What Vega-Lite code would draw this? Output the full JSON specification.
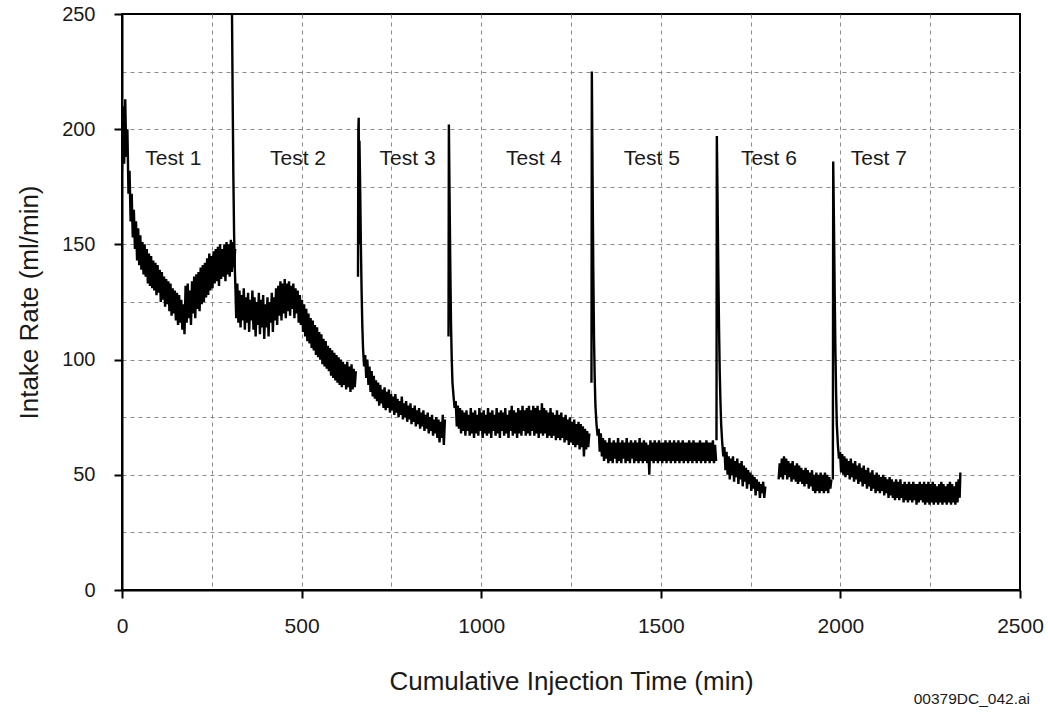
{
  "$schema": "https://vega.github.io/schema/vega-lite/v6.json",
  "width": 898,
  "height": 576,
  "autosize": {"type": "none"},
  "padding": {"left": 122, "top": 14, "right": 28, "bottom": 124},
  "background": "white",
  "config": {
    "view": {"stroke": "black", "strokeWidth": 2},
    "font": "Liberation Sans"
  },
  "title": {
    "text": "00379DC_042.ai",
    "orient": "bottom",
    "anchor": "end",
    "frame": "group",
    "offset": -2,
    "dx": 10,
    "fontSize": 15.5,
    "fontWeight": "normal",
    "color": "#1a1a1a",
    "font": "Liberation Sans"
  },
  "layer": [
    {
      "data": {"values": [
        {"s":1,"t":0,"r":182},{"s":1,"t":3,"r":210},{"s":1,"t":6,"r":185},{"s":1,"t":9,"r":213},{"s":1,"t":12,"r":188},{"s":1,"t":15,"r":200},{"s":1,"t":18,"r":172},{"s":1,"t":21,"r":182},{"s":1,"t":24,"r":160},{"s":1,"t":27,"r":172},{"s":1,"t":30,"r":153},{"s":1,"t":33,"r":165},{"s":1,"t":36,"r":148},{"s":1,"t":39,"r":160},{"s":1,"t":42,"r":143},{"s":1,"t":45,"r":157},{"s":1,"t":48,"r":141},{"s":1,"t":51,"r":154},{"s":1,"t":54,"r":139},{"s":1,"t":57,"r":151},{"s":1,"t":60,"r":137},{"s":1,"t":63,"r":150},{"s":1,"t":66,"r":136},{"s":1,"t":69,"r":148},{"s":1,"t":72,"r":133},{"s":1,"t":75,"r":146},{"s":1,"t":78,"r":132},{"s":1,"t":81,"r":145},{"s":1,"t":84,"r":131},{"s":1,"t":87,"r":143},{"s":1,"t":90,"r":130},{"s":1,"t":93,"r":142},{"s":1,"t":96,"r":128},{"s":1,"t":99,"r":141},{"s":1,"t":102,"r":129},{"s":1,"t":105,"r":139},{"s":1,"t":108,"r":125},{"s":1,"t":111,"r":138},{"s":1,"t":114,"r":126},{"s":1,"t":117,"r":136},{"s":1,"t":120,"r":123},{"s":1,"t":123,"r":135},{"s":1,"t":126,"r":124},{"s":1,"t":129,"r":134},{"s":1,"t":132,"r":121},{"s":1,"t":135,"r":133},{"s":1,"t":138,"r":119},{"s":1,"t":141,"r":131},{"s":1,"t":144,"r":120},{"s":1,"t":147,"r":130},{"s":1,"t":150,"r":117},{"s":1,"t":153,"r":129},{"s":1,"t":156,"r":115},{"s":1,"t":159,"r":128},{"s":1,"t":162,"r":116},{"s":1,"t":165,"r":126},{"s":1,"t":168,"r":113},{"s":1,"t":171,"r":124},{"s":1,"t":174,"r":111},{"s":1,"t":177,"r":132},{"s":1,"t":180,"r":116},{"s":1,"t":183,"r":133},{"s":1,"t":186,"r":118},{"s":1,"t":189,"r":130},{"s":1,"t":192,"r":115},{"s":1,"t":195,"r":134},{"s":1,"t":198,"r":120},{"s":1,"t":201,"r":136},{"s":1,"t":204,"r":118},{"s":1,"t":207,"r":137},{"s":1,"t":210,"r":122},{"s":1,"t":213,"r":138},{"s":1,"t":216,"r":121},{"s":1,"t":219,"r":140},{"s":1,"t":222,"r":124},{"s":1,"t":225,"r":141},{"s":1,"t":228,"r":125},{"s":1,"t":231,"r":142},{"s":1,"t":234,"r":127},{"s":1,"t":237,"r":144},{"s":1,"t":240,"r":128},{"s":1,"t":243,"r":146},{"s":1,"t":246,"r":130},{"s":1,"t":249,"r":145},{"s":1,"t":252,"r":131},{"s":1,"t":255,"r":147},{"s":1,"t":258,"r":133},{"s":1,"t":261,"r":148},{"s":1,"t":264,"r":134},{"s":1,"t":267,"r":149},{"s":1,"t":270,"r":132},{"s":1,"t":273,"r":150},{"s":1,"t":276,"r":135},{"s":1,"t":279,"r":148},{"s":1,"t":282,"r":136},{"s":1,"t":285,"r":150},{"s":1,"t":288,"r":134},{"s":1,"t":291,"r":151},{"s":1,"t":294,"r":137},{"s":1,"t":297,"r":150},{"s":1,"t":300,"r":136},{"s":1,"t":303,"r":152},{"s":1,"t":306,"r":138},{"s":1,"t":309,"r":151},{"s":1,"t":312,"r":140},{"s":1,"t":315,"r":148},
        {"s":2,"t":306,"r":255},{"s":2,"t":308,"r":215},{"s":2,"t":310,"r":180},{"s":2,"t":312,"r":155},{"s":2,"t":314,"r":140},{"s":2,"t":316,"r":130},{"s":2,"t":318,"r":118},{"s":2,"t":321,"r":133},{"s":2,"t":324,"r":116},{"s":2,"t":327,"r":130},{"s":2,"t":330,"r":114},{"s":2,"t":333,"r":128},{"s":2,"t":336,"r":117},{"s":2,"t":339,"r":131},{"s":2,"t":342,"r":113},{"s":2,"t":345,"r":127},{"s":2,"t":348,"r":116},{"s":2,"t":351,"r":129},{"s":2,"t":354,"r":112},{"s":2,"t":357,"r":126},{"s":2,"t":360,"r":117},{"s":2,"t":363,"r":130},{"s":2,"t":366,"r":113},{"s":2,"t":369,"r":127},{"s":2,"t":372,"r":110},{"s":2,"t":375,"r":125},{"s":2,"t":378,"r":115},{"s":2,"t":381,"r":129},{"s":2,"t":384,"r":111},{"s":2,"t":387,"r":126},{"s":2,"t":390,"r":114},{"s":2,"t":393,"r":128},{"s":2,"t":396,"r":109},{"s":2,"t":399,"r":124},{"s":2,"t":402,"r":114},{"s":2,"t":405,"r":127},{"s":2,"t":408,"r":110},{"s":2,"t":411,"r":125},{"s":2,"t":414,"r":116},{"s":2,"t":417,"r":129},{"s":2,"t":420,"r":112},{"s":2,"t":423,"r":127},{"s":2,"t":426,"r":117},{"s":2,"t":429,"r":131},{"s":2,"t":432,"r":115},{"s":2,"t":435,"r":132},{"s":2,"t":438,"r":119},{"s":2,"t":441,"r":134},{"s":2,"t":444,"r":117},{"s":2,"t":447,"r":133},{"s":2,"t":450,"r":120},{"s":2,"t":453,"r":135},{"s":2,"t":456,"r":118},{"s":2,"t":459,"r":133},{"s":2,"t":462,"r":121},{"s":2,"t":465,"r":134},{"s":2,"t":468,"r":119},{"s":2,"t":471,"r":132},{"s":2,"t":474,"r":122},{"s":2,"t":477,"r":133},{"s":2,"t":480,"r":118},{"s":2,"t":483,"r":131},{"s":2,"t":486,"r":120},{"s":2,"t":489,"r":130},{"s":2,"t":492,"r":116},{"s":2,"t":495,"r":128},{"s":2,"t":498,"r":115},{"s":2,"t":501,"r":126},{"s":2,"t":504,"r":112},{"s":2,"t":507,"r":124},{"s":2,"t":510,"r":110},{"s":2,"t":513,"r":122},{"s":2,"t":516,"r":108},{"s":2,"t":519,"r":120},{"s":2,"t":522,"r":107},{"s":2,"t":525,"r":118},{"s":2,"t":528,"r":105},{"s":2,"t":531,"r":117},{"s":2,"t":534,"r":104},{"s":2,"t":537,"r":115},{"s":2,"t":540,"r":102},{"s":2,"t":543,"r":114},{"s":2,"t":546,"r":101},{"s":2,"t":549,"r":112},{"s":2,"t":552,"r":100},{"s":2,"t":555,"r":111},{"s":2,"t":558,"r":98},{"s":2,"t":561,"r":109},{"s":2,"t":564,"r":97},{"s":2,"t":567,"r":108},{"s":2,"t":570,"r":96},{"s":2,"t":573,"r":106},{"s":2,"t":576,"r":95},{"s":2,"t":579,"r":105},{"s":2,"t":582,"r":93},{"s":2,"t":585,"r":104},{"s":2,"t":588,"r":92},{"s":2,"t":591,"r":103},{"s":2,"t":594,"r":91},{"s":2,"t":597,"r":102},{"s":2,"t":600,"r":90},{"s":2,"t":603,"r":101},{"s":2,"t":606,"r":89},{"s":2,"t":609,"r":100},{"s":2,"t":612,"r":88},{"s":2,"t":615,"r":99},{"s":2,"t":618,"r":89},{"s":2,"t":621,"r":98},{"s":2,"t":624,"r":87},{"s":2,"t":627,"r":99},{"s":2,"t":630,"r":88},{"s":2,"t":633,"r":97},{"s":2,"t":636,"r":86},{"s":2,"t":639,"r":98},{"s":2,"t":642,"r":87},{"s":2,"t":645,"r":96},{"s":2,"t":648,"r":88},{"s":2,"t":651,"r":95},
        {"s":3,"t":657,"r":136},{"s":3,"t":658,"r":200},{"s":3,"t":659,"r":205},{"s":3,"t":660,"r":150},{"s":3,"t":661,"r":195},{"s":3,"t":663,"r":175},{"s":3,"t":665,"r":150},{"s":3,"t":667,"r":130},{"s":3,"t":669,"r":115},{"s":3,"t":671,"r":105},{"s":3,"t":674,"r":97},{"s":3,"t":677,"r":102},{"s":3,"t":680,"r":92},{"s":3,"t":683,"r":100},{"s":3,"t":686,"r":89},{"s":3,"t":689,"r":97},{"s":3,"t":692,"r":86},{"s":3,"t":695,"r":95},{"s":3,"t":698,"r":84},{"s":3,"t":701,"r":93},{"s":3,"t":704,"r":83},{"s":3,"t":707,"r":91},{"s":3,"t":710,"r":82},{"s":3,"t":713,"r":90},{"s":3,"t":716,"r":80},{"s":3,"t":719,"r":89},{"s":3,"t":722,"r":81},{"s":3,"t":725,"r":87},{"s":3,"t":728,"r":79},{"s":3,"t":731,"r":88},{"s":3,"t":734,"r":78},{"s":3,"t":737,"r":86},{"s":3,"t":740,"r":79},{"s":3,"t":743,"r":87},{"s":3,"t":746,"r":77},{"s":3,"t":749,"r":85},{"s":3,"t":752,"r":78},{"s":3,"t":755,"r":84},{"s":3,"t":758,"r":76},{"s":3,"t":761,"r":85},{"s":3,"t":764,"r":77},{"s":3,"t":767,"r":83},{"s":3,"t":770,"r":75},{"s":3,"t":773,"r":82},{"s":3,"t":776,"r":76},{"s":3,"t":779,"r":84},{"s":3,"t":782,"r":74},{"s":3,"t":785,"r":81},{"s":3,"t":788,"r":75},{"s":3,"t":791,"r":82},{"s":3,"t":794,"r":73},{"s":3,"t":797,"r":80},{"s":3,"t":800,"r":74},{"s":3,"t":803,"r":81},{"s":3,"t":806,"r":72},{"s":3,"t":809,"r":79},{"s":3,"t":812,"r":73},{"s":3,"t":815,"r":80},{"s":3,"t":818,"r":71},{"s":3,"t":821,"r":78},{"s":3,"t":824,"r":72},{"s":3,"t":827,"r":79},{"s":3,"t":830,"r":70},{"s":3,"t":833,"r":77},{"s":3,"t":836,"r":71},{"s":3,"t":839,"r":78},{"s":3,"t":842,"r":69},{"s":3,"t":845,"r":76},{"s":3,"t":848,"r":70},{"s":3,"t":851,"r":77},{"s":3,"t":854,"r":68},{"s":3,"t":857,"r":75},{"s":3,"t":860,"r":69},{"s":3,"t":863,"r":76},{"s":3,"t":866,"r":67},{"s":3,"t":869,"r":74},{"s":3,"t":872,"r":68},{"s":3,"t":875,"r":75},{"s":3,"t":878,"r":66},{"s":3,"t":881,"r":74},{"s":3,"t":884,"r":64},{"s":3,"t":887,"r":73},{"s":3,"t":890,"r":66},{"s":3,"t":893,"r":76},{"s":3,"t":896,"r":63},{"s":3,"t":899,"r":74},
        {"s":4,"t":909,"r":110},{"s":4,"t":910,"r":202},{"s":4,"t":912,"r":170},{"s":4,"t":914,"r":140},{"s":4,"t":916,"r":115},{"s":4,"t":918,"r":100},{"s":4,"t":920,"r":90},{"s":4,"t":923,"r":84},{"s":4,"t":926,"r":79},{"s":4,"t":929,"r":82},{"s":4,"t":932,"r":71},{"s":4,"t":935,"r":80},{"s":4,"t":938,"r":70},{"s":4,"t":941,"r":79},{"s":4,"t":944,"r":68},{"s":4,"t":947,"r":78},{"s":4,"t":950,"r":69},{"s":4,"t":953,"r":77},{"s":4,"t":956,"r":67},{"s":4,"t":959,"r":78},{"s":4,"t":962,"r":69},{"s":4,"t":965,"r":76},{"s":4,"t":968,"r":67},{"s":4,"t":971,"r":79},{"s":4,"t":974,"r":68},{"s":4,"t":977,"r":77},{"s":4,"t":980,"r":66},{"s":4,"t":983,"r":78},{"s":4,"t":986,"r":68},{"s":4,"t":989,"r":76},{"s":4,"t":992,"r":67},{"s":4,"t":995,"r":79},{"s":4,"t":998,"r":69},{"s":4,"t":1001,"r":77},{"s":4,"t":1004,"r":66},{"s":4,"t":1007,"r":78},{"s":4,"t":1010,"r":68},{"s":4,"t":1013,"r":76},{"s":4,"t":1016,"r":67},{"s":4,"t":1019,"r":79},{"s":4,"t":1022,"r":68},{"s":4,"t":1025,"r":77},{"s":4,"t":1028,"r":66},{"s":4,"t":1031,"r":78},{"s":4,"t":1034,"r":69},{"s":4,"t":1037,"r":76},{"s":4,"t":1040,"r":67},{"s":4,"t":1043,"r":79},{"s":4,"t":1046,"r":68},{"s":4,"t":1049,"r":77},{"s":4,"t":1052,"r":66},{"s":4,"t":1055,"r":78},{"s":4,"t":1058,"r":69},{"s":4,"t":1061,"r":77},{"s":4,"t":1064,"r":67},{"s":4,"t":1067,"r":79},{"s":4,"t":1070,"r":68},{"s":4,"t":1073,"r":76},{"s":4,"t":1076,"r":66},{"s":4,"t":1079,"r":78},{"s":4,"t":1082,"r":69},{"s":4,"t":1085,"r":80},{"s":4,"t":1088,"r":67},{"s":4,"t":1091,"r":78},{"s":4,"t":1094,"r":68},{"s":4,"t":1097,"r":77},{"s":4,"t":1100,"r":66},{"s":4,"t":1103,"r":79},{"s":4,"t":1106,"r":68},{"s":4,"t":1109,"r":78},{"s":4,"t":1112,"r":67},{"s":4,"t":1115,"r":80},{"s":4,"t":1118,"r":69},{"s":4,"t":1121,"r":78},{"s":4,"t":1124,"r":67},{"s":4,"t":1127,"r":79},{"s":4,"t":1130,"r":68},{"s":4,"t":1133,"r":80},{"s":4,"t":1136,"r":67},{"s":4,"t":1139,"r":78},{"s":4,"t":1142,"r":69},{"s":4,"t":1145,"r":80},{"s":4,"t":1148,"r":67},{"s":4,"t":1151,"r":79},{"s":4,"t":1154,"r":68},{"s":4,"t":1157,"r":80},{"s":4,"t":1160,"r":66},{"s":4,"t":1163,"r":78},{"s":4,"t":1166,"r":68},{"s":4,"t":1169,"r":81},{"s":4,"t":1172,"r":67},{"s":4,"t":1175,"r":79},{"s":4,"t":1178,"r":68},{"s":4,"t":1181,"r":78},{"s":4,"t":1184,"r":66},{"s":4,"t":1187,"r":77},{"s":4,"t":1190,"r":67},{"s":4,"t":1193,"r":79},{"s":4,"t":1196,"r":66},{"s":4,"t":1199,"r":77},{"s":4,"t":1202,"r":67},{"s":4,"t":1205,"r":76},{"s":4,"t":1208,"r":65},{"s":4,"t":1211,"r":78},{"s":4,"t":1214,"r":66},{"s":4,"t":1217,"r":76},{"s":4,"t":1220,"r":65},{"s":4,"t":1223,"r":77},{"s":4,"t":1226,"r":66},{"s":4,"t":1229,"r":75},{"s":4,"t":1232,"r":64},{"s":4,"t":1235,"r":76},{"s":4,"t":1238,"r":65},{"s":4,"t":1241,"r":74},{"s":4,"t":1244,"r":63},{"s":4,"t":1247,"r":75},{"s":4,"t":1250,"r":64},{"s":4,"t":1253,"r":73},{"s":4,"t":1256,"r":63},{"s":4,"t":1259,"r":74},{"s":4,"t":1262,"r":62},{"s":4,"t":1265,"r":72},{"s":4,"t":1268,"r":63},{"s":4,"t":1271,"r":73},{"s":4,"t":1274,"r":61},{"s":4,"t":1277,"r":72},{"s":4,"t":1280,"r":62},{"s":4,"t":1283,"r":71},{"s":4,"t":1286,"r":58},{"s":4,"t":1289,"r":70},{"s":4,"t":1292,"r":61},{"s":4,"t":1295,"r":69},{"s":4,"t":1298,"r":62},{"s":4,"t":1301,"r":68},
        {"s":5,"t":1307,"r":90},{"s":5,"t":1308,"r":225},{"s":5,"t":1310,"r":180},{"s":5,"t":1312,"r":140},{"s":5,"t":1314,"r":110},{"s":5,"t":1316,"r":92},{"s":5,"t":1318,"r":80},{"s":5,"t":1321,"r":72},{"s":5,"t":1324,"r":67},{"s":5,"t":1327,"r":70},{"s":5,"t":1330,"r":60},{"s":5,"t":1333,"r":68},{"s":5,"t":1336,"r":58},{"s":5,"t":1339,"r":66},{"s":5,"t":1342,"r":56},{"s":5,"t":1345,"r":65},{"s":5,"t":1348,"r":57},{"s":5,"t":1351,"r":64},{"s":5,"t":1354,"r":55},{"s":5,"t":1357,"r":66},{"s":5,"t":1360,"r":56},{"s":5,"t":1363,"r":64},{"s":5,"t":1366,"r":55},{"s":5,"t":1369,"r":65},{"s":5,"t":1372,"r":57},{"s":5,"t":1375,"r":64},{"s":5,"t":1378,"r":55},{"s":5,"t":1381,"r":66},{"s":5,"t":1384,"r":56},{"s":5,"t":1387,"r":64},{"s":5,"t":1390,"r":55},{"s":5,"t":1393,"r":65},{"s":5,"t":1396,"r":57},{"s":5,"t":1399,"r":64},{"s":5,"t":1402,"r":55},{"s":5,"t":1405,"r":66},{"s":5,"t":1408,"r":56},{"s":5,"t":1411,"r":64},{"s":5,"t":1414,"r":55},{"s":5,"t":1417,"r":65},{"s":5,"t":1420,"r":57},{"s":5,"t":1423,"r":64},{"s":5,"t":1426,"r":55},{"s":5,"t":1429,"r":65},{"s":5,"t":1432,"r":56},{"s":5,"t":1435,"r":64},{"s":5,"t":1438,"r":55},{"s":5,"t":1441,"r":66},{"s":5,"t":1444,"r":56},{"s":5,"t":1447,"r":64},{"s":5,"t":1450,"r":55},{"s":5,"t":1453,"r":65},{"s":5,"t":1456,"r":56},{"s":5,"t":1459,"r":64},{"s":5,"t":1462,"r":55},{"s":5,"t":1465,"r":63},{"s":5,"t":1468,"r":50},{"s":5,"t":1471,"r":65},{"s":5,"t":1474,"r":56},{"s":5,"t":1477,"r":64},{"s":5,"t":1480,"r":55},{"s":5,"t":1483,"r":65},{"s":5,"t":1486,"r":56},{"s":5,"t":1489,"r":64},{"s":5,"t":1492,"r":55},{"s":5,"t":1495,"r":65},{"s":5,"t":1498,"r":56},{"s":5,"t":1501,"r":64},{"s":5,"t":1504,"r":55},{"s":5,"t":1507,"r":64},{"s":5,"t":1510,"r":56},{"s":5,"t":1513,"r":65},{"s":5,"t":1516,"r":55},{"s":5,"t":1519,"r":64},{"s":5,"t":1522,"r":56},{"s":5,"t":1525,"r":65},{"s":5,"t":1528,"r":55},{"s":5,"t":1531,"r":64},{"s":5,"t":1534,"r":56},{"s":5,"t":1537,"r":65},{"s":5,"t":1540,"r":55},{"s":5,"t":1543,"r":64},{"s":5,"t":1546,"r":56},{"s":5,"t":1549,"r":65},{"s":5,"t":1552,"r":55},{"s":5,"t":1555,"r":64},{"s":5,"t":1558,"r":56},{"s":5,"t":1561,"r":65},{"s":5,"t":1564,"r":55},{"s":5,"t":1567,"r":64},{"s":5,"t":1570,"r":56},{"s":5,"t":1573,"r":64},{"s":5,"t":1576,"r":55},{"s":5,"t":1579,"r":65},{"s":5,"t":1582,"r":56},{"s":5,"t":1585,"r":64},{"s":5,"t":1588,"r":55},{"s":5,"t":1591,"r":65},{"s":5,"t":1594,"r":56},{"s":5,"t":1597,"r":64},{"s":5,"t":1600,"r":55},{"s":5,"t":1603,"r":64},{"s":5,"t":1606,"r":56},{"s":5,"t":1609,"r":65},{"s":5,"t":1612,"r":55},{"s":5,"t":1615,"r":64},{"s":5,"t":1618,"r":56},{"s":5,"t":1621,"r":64},{"s":5,"t":1624,"r":55},{"s":5,"t":1627,"r":65},{"s":5,"t":1630,"r":56},{"s":5,"t":1633,"r":64},{"s":5,"t":1636,"r":55},{"s":5,"t":1639,"r":64},{"s":5,"t":1642,"r":56},{"s":5,"t":1645,"r":65},{"s":5,"t":1648,"r":55},{"s":5,"t":1651,"r":63},{"s":5,"t":1654,"r":56},
        {"s":6,"t":1655,"r":65},{"s":6,"t":1656,"r":197},{"s":6,"t":1658,"r":170},{"s":6,"t":1660,"r":140},{"s":6,"t":1662,"r":115},{"s":6,"t":1664,"r":95},{"s":6,"t":1666,"r":82},{"s":6,"t":1668,"r":72},{"s":6,"t":1671,"r":64},{"s":6,"t":1674,"r":58},{"s":6,"t":1677,"r":62},{"s":6,"t":1680,"r":52},{"s":6,"t":1683,"r":60},{"s":6,"t":1686,"r":50},{"s":6,"t":1689,"r":58},{"s":6,"t":1692,"r":48},{"s":6,"t":1695,"r":57},{"s":6,"t":1698,"r":50},{"s":6,"t":1701,"r":58},{"s":6,"t":1704,"r":47},{"s":6,"t":1707,"r":56},{"s":6,"t":1710,"r":49},{"s":6,"t":1713,"r":57},{"s":6,"t":1716,"r":46},{"s":6,"t":1719,"r":55},{"s":6,"t":1722,"r":48},{"s":6,"t":1725,"r":56},{"s":6,"t":1728,"r":45},{"s":6,"t":1731,"r":54},{"s":6,"t":1734,"r":47},{"s":6,"t":1737,"r":53},{"s":6,"t":1740,"r":44},{"s":6,"t":1743,"r":52},{"s":6,"t":1746,"r":46},{"s":6,"t":1749,"r":51},{"s":6,"t":1752,"r":43},{"s":6,"t":1755,"r":50},{"s":6,"t":1758,"r":44},{"s":6,"t":1761,"r":49},{"s":6,"t":1764,"r":41},{"s":6,"t":1767,"r":48},{"s":6,"t":1770,"r":43},{"s":6,"t":1773,"r":47},{"s":6,"t":1776,"r":40},{"s":6,"t":1779,"r":46},{"s":6,"t":1782,"r":42},{"s":6,"t":1785,"r":47},{"s":6,"t":1788,"r":40},{"s":6,"t":1791,"r":45},
        {"s":66,"t":1828,"r":48},{"s":66,"t":1831,"r":55},{"s":66,"t":1834,"r":49},{"s":66,"t":1837,"r":57},{"s":66,"t":1840,"r":48},{"s":66,"t":1843,"r":58},{"s":66,"t":1846,"r":50},{"s":66,"t":1849,"r":57},{"s":66,"t":1852,"r":48},{"s":66,"t":1855,"r":56},{"s":66,"t":1858,"r":49},{"s":66,"t":1861,"r":55},{"s":66,"t":1864,"r":47},{"s":66,"t":1867,"r":56},{"s":66,"t":1870,"r":48},{"s":66,"t":1873,"r":54},{"s":66,"t":1876,"r":47},{"s":66,"t":1879,"r":55},{"s":66,"t":1882,"r":46},{"s":66,"t":1885,"r":54},{"s":66,"t":1888,"r":47},{"s":66,"t":1891,"r":53},{"s":66,"t":1894,"r":46},{"s":66,"t":1897,"r":52},{"s":66,"t":1900,"r":45},{"s":66,"t":1903,"r":53},{"s":66,"t":1906,"r":46},{"s":66,"t":1909,"r":52},{"s":66,"t":1912,"r":44},{"s":66,"t":1915,"r":51},{"s":66,"t":1918,"r":45},{"s":66,"t":1921,"r":52},{"s":66,"t":1924,"r":43},{"s":66,"t":1927,"r":50},{"s":66,"t":1930,"r":42},{"s":66,"t":1933,"r":51},{"s":66,"t":1936,"r":43},{"s":66,"t":1939,"r":50},{"s":66,"t":1942,"r":42},{"s":66,"t":1945,"r":51},{"s":66,"t":1948,"r":43},{"s":66,"t":1951,"r":50},{"s":66,"t":1954,"r":42},{"s":66,"t":1957,"r":51},{"s":66,"t":1960,"r":43},{"s":66,"t":1963,"r":50},{"s":66,"t":1966,"r":42},{"s":66,"t":1969,"r":49},{"s":66,"t":1972,"r":44},{"s":66,"t":1975,"r":48},
        {"s":7,"t":1979,"r":48},{"s":7,"t":1980,"r":186},{"s":7,"t":1982,"r":160},{"s":7,"t":1984,"r":130},{"s":7,"t":1986,"r":105},{"s":7,"t":1988,"r":86},{"s":7,"t":1990,"r":72},{"s":7,"t":1993,"r":63},{"s":7,"t":1996,"r":57},{"s":7,"t":1999,"r":60},{"s":7,"t":2002,"r":51},{"s":7,"t":2005,"r":59},{"s":7,"t":2008,"r":50},{"s":7,"t":2011,"r":58},{"s":7,"t":2014,"r":49},{"s":7,"t":2017,"r":57},{"s":7,"t":2020,"r":50},{"s":7,"t":2023,"r":56},{"s":7,"t":2026,"r":48},{"s":7,"t":2029,"r":57},{"s":7,"t":2032,"r":49},{"s":7,"t":2035,"r":55},{"s":7,"t":2038,"r":47},{"s":7,"t":2041,"r":56},{"s":7,"t":2044,"r":48},{"s":7,"t":2047,"r":54},{"s":7,"t":2050,"r":46},{"s":7,"t":2053,"r":55},{"s":7,"t":2056,"r":47},{"s":7,"t":2059,"r":53},{"s":7,"t":2062,"r":45},{"s":7,"t":2065,"r":54},{"s":7,"t":2068,"r":46},{"s":7,"t":2071,"r":52},{"s":7,"t":2074,"r":44},{"s":7,"t":2077,"r":53},{"s":7,"t":2080,"r":45},{"s":7,"t":2083,"r":51},{"s":7,"t":2086,"r":43},{"s":7,"t":2089,"r":52},{"s":7,"t":2092,"r":44},{"s":7,"t":2095,"r":50},{"s":7,"t":2098,"r":42},{"s":7,"t":2101,"r":51},{"s":7,"t":2104,"r":43},{"s":7,"t":2107,"r":50},{"s":7,"t":2110,"r":42},{"s":7,"t":2113,"r":49},{"s":7,"t":2116,"r":43},{"s":7,"t":2119,"r":50},{"s":7,"t":2122,"r":41},{"s":7,"t":2125,"r":49},{"s":7,"t":2128,"r":42},{"s":7,"t":2131,"r":48},{"s":7,"t":2134,"r":40},{"s":7,"t":2137,"r":49},{"s":7,"t":2140,"r":41},{"s":7,"t":2143,"r":48},{"s":7,"t":2146,"r":40},{"s":7,"t":2149,"r":47},{"s":7,"t":2152,"r":39},{"s":7,"t":2155,"r":48},{"s":7,"t":2158,"r":40},{"s":7,"t":2161,"r":47},{"s":7,"t":2164,"r":39},{"s":7,"t":2167,"r":48},{"s":7,"t":2170,"r":40},{"s":7,"t":2173,"r":46},{"s":7,"t":2176,"r":38},{"s":7,"t":2179,"r":47},{"s":7,"t":2182,"r":39},{"s":7,"t":2185,"r":46},{"s":7,"t":2188,"r":38},{"s":7,"t":2191,"r":47},{"s":7,"t":2194,"r":39},{"s":7,"t":2197,"r":46},{"s":7,"t":2200,"r":38},{"s":7,"t":2203,"r":47},{"s":7,"t":2206,"r":39},{"s":7,"t":2209,"r":46},{"s":7,"t":2212,"r":37},{"s":7,"t":2215,"r":46},{"s":7,"t":2218,"r":38},{"s":7,"t":2221,"r":47},{"s":7,"t":2224,"r":39},{"s":7,"t":2227,"r":46},{"s":7,"t":2230,"r":38},{"s":7,"t":2233,"r":47},{"s":7,"t":2236,"r":37},{"s":7,"t":2239,"r":46},{"s":7,"t":2242,"r":38},{"s":7,"t":2245,"r":47},{"s":7,"t":2248,"r":37},{"s":7,"t":2251,"r":46},{"s":7,"t":2254,"r":38},{"s":7,"t":2257,"r":47},{"s":7,"t":2260,"r":37},{"s":7,"t":2263,"r":46},{"s":7,"t":2266,"r":38},{"s":7,"t":2269,"r":45},{"s":7,"t":2272,"r":37},{"s":7,"t":2275,"r":46},{"s":7,"t":2278,"r":38},{"s":7,"t":2281,"r":47},{"s":7,"t":2284,"r":37},{"s":7,"t":2287,"r":46},{"s":7,"t":2290,"r":38},{"s":7,"t":2293,"r":45},{"s":7,"t":2296,"r":37},{"s":7,"t":2299,"r":46},{"s":7,"t":2302,"r":38},{"s":7,"t":2305,"r":47},{"s":7,"t":2308,"r":37},{"s":7,"t":2311,"r":46},{"s":7,"t":2314,"r":38},{"s":7,"t":2317,"r":45},{"s":7,"t":2320,"r":37},{"s":7,"t":2323,"r":47},{"s":7,"t":2326,"r":38},{"s":7,"t":2329,"r":48},{"s":7,"t":2332,"r":40},{"s":7,"t":2334,"r":51}
      ]},
      "mark": {"type": "line", "color": "black", "strokeWidth": 2.4, "clip": true},
      "encoding": {
        "x": {
          "field": "t", "type": "quantitative",
          "scale": {"domain": [0, 2500], "nice": false, "zero": false},
          "axis": {
            "values": [0, 250, 500, 750, 1000, 1250, 1500, 1750, 2000, 2250, 2500],
            "format": "d",
            "labelExpr": "datum.value % 500 === 0 ? datum.label : ''",
            "labelFontSize": 21,
            "labelColor": "#1a1a1a",
            "labelPadding": 17,
            "labelFlush": false,
            "labelOverlap": false,
            "tickSize": 8,
            "tickWidth": 2,
            "tickColor": "black",
            "tickOpacity": {"condition": {"test": "datum.value % 500 === 0", "value": 1}, "value": 0},
            "domainColor": "black",
            "domainWidth": 2,
            "grid": true,
            "gridDash": [4, 4],
            "gridColor": "#8a8a8a",
            "gridWidth": 1,
            "gridOpacity": {"condition": {"test": "datum.value === 0 || datum.value === 2500", "value": 0}, "value": 1},
            "title": "Cumulative Injection Time (min)",
            "titleFontSize": 26,
            "titleFontWeight": "normal",
            "titleColor": "#1a1a1a",
            "titleY": 78
          }
        },
        "y": {
          "field": "r", "type": "quantitative",
          "scale": {"domain": [0, 250], "nice": false, "zero": false},
          "axis": {
            "values": [0, 25, 50, 75, 100, 125, 150, 175, 200, 225, 250],
            "labelExpr": "datum.value % 50 === 0 ? datum.label : ''",
            "labelFontSize": 20,
            "labelColor": "#1a1a1a",
            "labelPadding": 19,
            "labelFlush": false,
            "labelOverlap": false,
            "tickSize": 8,
            "tickWidth": 2,
            "tickColor": "black",
            "tickOpacity": {"condition": {"test": "datum.value % 50 === 0", "value": 1}, "value": 0},
            "domainColor": "black",
            "domainWidth": 2,
            "grid": true,
            "gridDash": [4, 4],
            "gridColor": "#8a8a8a",
            "gridWidth": 1,
            "gridOpacity": {"condition": {"test": "datum.value === 0 || datum.value === 250", "value": 0}, "value": 1},
            "title": "Intake Rate (ml/min)",
            "titleFontSize": 26,
            "titleFontWeight": "normal",
            "titleColor": "#1a1a1a",
            "titleX": -80
          }
        },
        "detail": {"field": "s", "type": "nominal"},
        "order": {"field": "t"}
      }
    },
    {
      "data": {"values": [
        {"label": "Test 1", "t": 143, "r": 187},
        {"label": "Test 2", "t": 490, "r": 187},
        {"label": "Test 3", "t": 795, "r": 187},
        {"label": "Test 4", "t": 1147, "r": 187},
        {"label": "Test 5", "t": 1475, "r": 187},
        {"label": "Test 6", "t": 1801, "r": 187},
        {"label": "Test 7", "t": 2107, "r": 187}
      ]},
      "mark": {"type": "text", "fontSize": 21, "font": "Liberation Sans", "color": "#1a1a1a", "baseline": "middle", "align": "center"},
      "encoding": {
        "x": {"field": "t", "type": "quantitative"},
        "y": {"field": "r", "type": "quantitative"},
        "text": {"field": "label"}
      }
    }
  ]
}
